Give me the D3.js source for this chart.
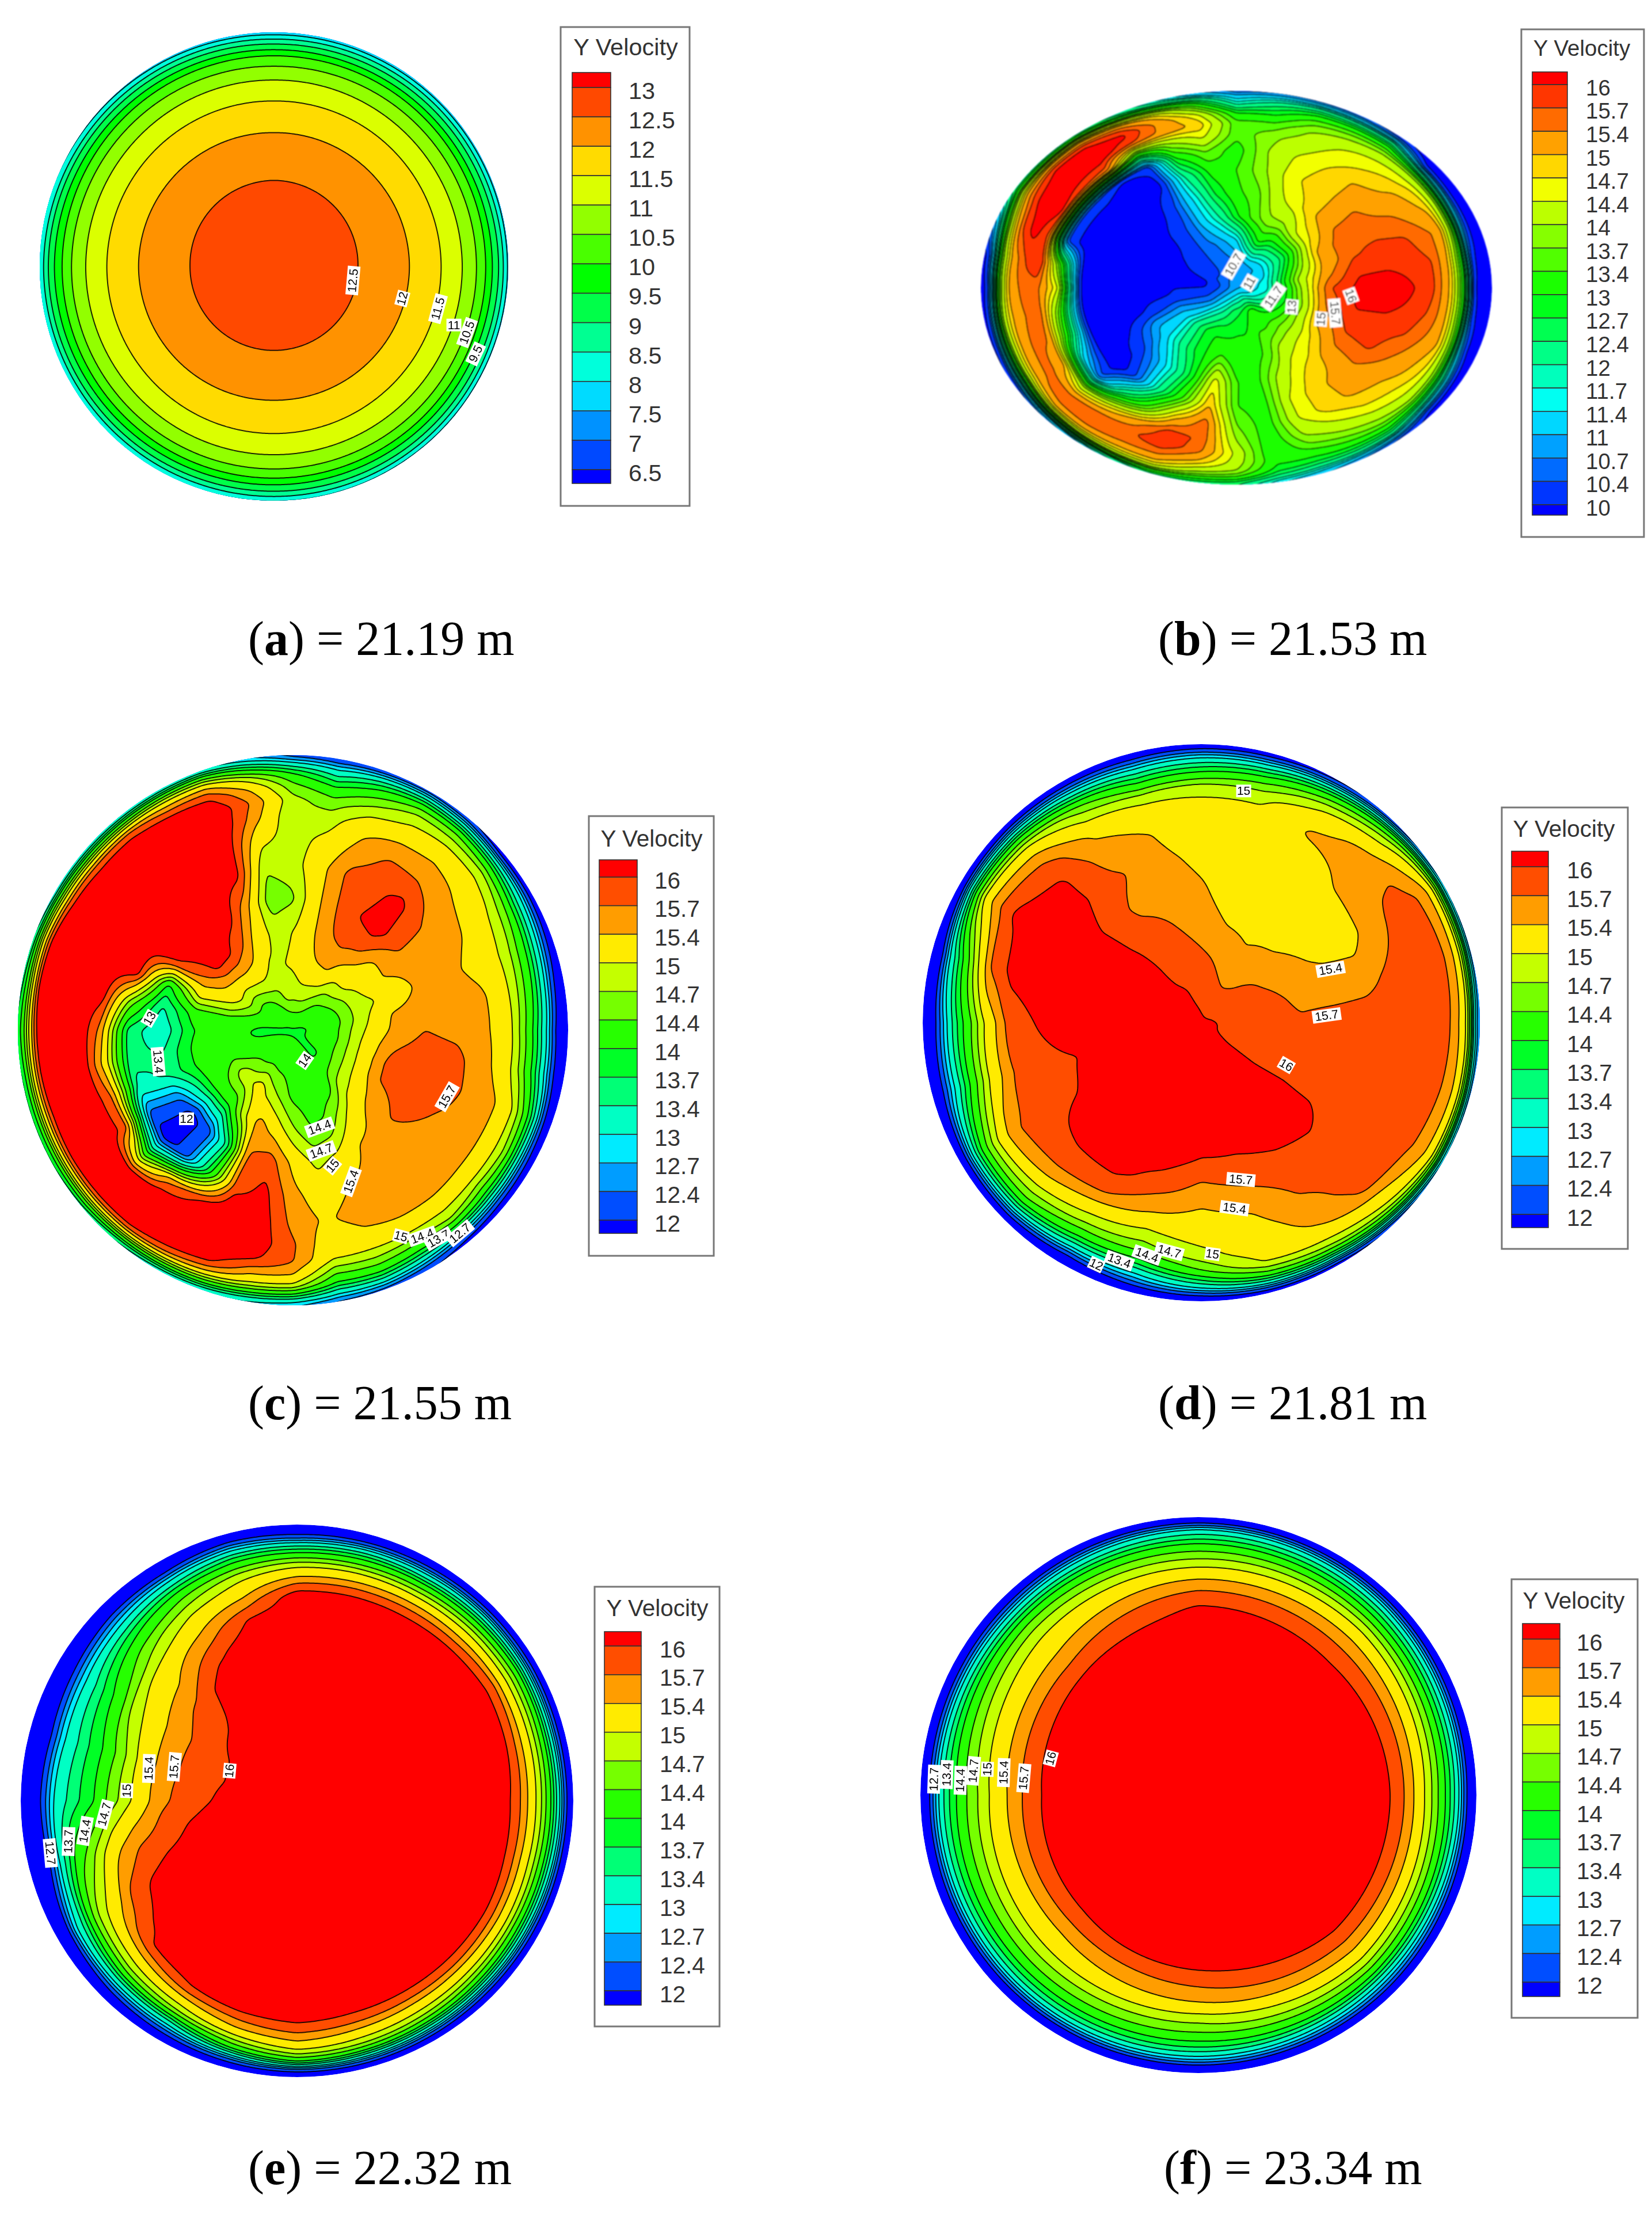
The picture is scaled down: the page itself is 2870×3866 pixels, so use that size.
<!DOCTYPE html>
<html lang="en">
<head>
<meta charset="UTF-8">
<title>Y Velocity contours</title>
<script src="https://d3js.org/d3.v7.min.js"></script>
<style>
  body { margin: 0; background: #fff; }
</style>
</head>
<body>
<svg id="chart" width="2870" height="3866"></svg>
<script>

// contour levels, low to high
var levelsA = [6.5, 7, 7.5, 8, 8.5, 9, 9.5, 10, 10.5, 11, 11.5, 12, 12.5, 13];
var levelsB = [10, 10.4, 10.7, 11, 11.4, 11.7, 12, 12.4, 12.7, 13, 13.4, 13.7, 14, 14.4, 14.7, 15, 15.4, 15.7, 16];
var levelsC = [12, 12.4, 12.7, 13, 13.4, 13.7, 14, 14.4, 14.7, 15, 15.4, 15.7, 16];

// velocity: one row per angle (counter clockwise from east), one column per radius
var radiiA = [0, .2, .36, .58, .715, .805, .866, .905, .932, .96, .98, .995, 1];
var velA = [
  [12.9, 12.75, 12.5, 12, 11.5, 11, 10.5, 10, 9.5, 9, 8.5, 8, 7.8],
  [12.9, 12.75, 12.52, 11.98, 11.47, 10.95, 10.4, 9.95, 9.35, 8.8, 8.25, 7.8, 7.7],
  [12.9, 12.75, 12.5, 12, 11.5, 11, 10.5, 10, 9.6, 9.1, 8.6, 8.2, 8],
  [12.9, 12.75, 12.5, 11.98, 11.5, 11, 10.5, 10, 9.5, 9, 8.6, 8.1, 7.9]
];

var radiiBC = [0, .12, .24, .36, .48, .6, .7, .78, .84, .89, .93, .96, .98, 1];
var velB = [
  [10.9, 11.6, 13.8, 15.65, 16.1, 16.3, 16, 15.7, 14.9, 13.2, 10.1, 9.7, 9.6, 9.6],
  [10.9, 11.6, 14, 15.3, 15.95, 15.95, 15.85, 15.7, 15, 13.3, 10.3, 9.8, 9.7, 9.6],
  [10.9, 11.5, 13.6, 15.1, 15.65, 15.8, 15.75, 15.5, 15.3, 13.8, 11, 9.9, 9.7, 9.6],
  [10.9, 11.3, 13.1, 15, 15.65, 15.55, 15.45, 15.2, 14.9, 14, 11.5, 10, 9.7, 9.6],
  [10.9, 11.2, 12.6, 14.6, 15.35, 15.42, 15.1, 14.95, 14.6, 14, 12, 10.2, 9.8, 9.7],
  [10.9, 11, 12.6, 14.4, 15, 15, 15, 14.7, 14.45, 14, 13.1, 12, 10.9, 10.1],
  [10.9, 11, 12.6, 13.9, 14.6, 14.85, 14.7, 14.5, 14.3, 13.8, 13.1, 12.1, 11.2, 10.4],
  [10.9, 10.95, 13, 13.9, 14.3, 14.55, 14.45, 14.2, 14, 13.6, 13, 12.2, 11.4, 10.5],
  [10.9, 10.8, 12.3, 13.5, 13.6, 13.9, 14, 13.9, 13.5, 13, 12.5, 11.9, 11.3, 10.6],
  [10.9, 10.6, 11.3, 12.9, 13.3, 13.4, 13.2, 13.5, 13.5, 13, 12, 11.4, 11, 10.5],
  [10.9, 10.55, 11, 12, 12.7, 13.1, 13.7, 14.5, 14.9, 14.5, 13.6, 12.7, 11.9, 11],
  [10.9, 10.5, 10.7, 11.3, 11.5, 12, 13, 14, 15.3, 15.3, 14.7, 13.4, 12.5, 11.7],
  [10.9, 10.6, 10.6, 10.5, 10.4, 9.9, 10.1, 13.3, 15.8, 16.1, 15.5, 14.2, 13, 12.2],
  [10.9, 10.3, 10.2, 10.2, 9.8, 9.6, 10, 15.5, 16.2, 16.2, 16, 15, 13.7, 12.5],
  [10.9, 10.2, 10.1, 9.8, 9.6, 9.6, 10.3, 15.8, 16.2, 16.2, 16, 14.9, 13.5, 12.4],
  [10.9, 10.3, 9.95, 9.7, 9.6, 9.6, 10.3, 16.05, 16.2, 16.05, 15.5, 14.5, 13.4, 12.4],
  [10.9, 10, 9.8, 9.7, 9.6, 9.6, 10.3, 15.7, 16.15, 15.7, 14.5, 13, 11.8, 10.8],
  [10.9, 9.95, 9.8, 9.6, 9.6, 9.6, 13.5, 16.1, 15.7, 15.1, 13.7, 11.5, 10.3, 9.8],
  [10.9, 10, 10, 9.8, 9.6, 9.65, 14.5, 15.5, 15.5, 15.1, 13.5, 11, 10, 9.7],
  [10.9, 10.2, 10.05, 9.9, 9.6, 9.6, 13.5, 15.6, 15.4, 15, 13.9, 11.5, 10.2, 9.8],
  [10.9, 10.4, 10.6, 10.1, 9.7, 9.6, 13, 15.4, 15.5, 15.1, 14, 12, 10.5, 9.8],
  [10.9, 10.6, 11, 10.9, 10, 9.6, 11.5, 15.1, 15.5, 15.3, 14.3, 12.5, 11, 10],
  [10.9, 10.9, 11.5, 11.2, 10.3, 9.6, 10.5, 14, 15.4, 15.6, 15, 13.5, 11.8, 10.5],
  [10.9, 11.4, 12.2, 11.9, 10.9, 10.5, 12.5, 14.6, 15.6, 15.65, 15.1, 14, 12.5, 11],
  [10.9, 11.7, 12.7, 12.6, 11.9, 12.2, 13.5, 15.2, 15.65, 15.5, 15, 14.2, 13, 11.8],
  [10.9, 12, 13, 13, 13, 13.5, 14.9, 15.85, 15.95, 15.5, 15, 14.3, 13.4, 12.5],
  [10.9, 12.4, 12.9, 13.5, 14.6, 15, 15.6, 15.65, 15.5, 15, 14.3, 13.7, 13, 12.5],
  [10.9, 12.6, 13, 13.1, 13.4, 13.4, 13.7, 14, 14.3, 14.2, 14, 13.4, 12.8, 12.4],
  [10.9, 12.7, 13, 13.2, 13.3, 13.2, 13.2, 13.1, 13, 13.1, 12.9, 12.5, 12, 11.4],
  [10.9, 13, 13.4, 13.5, 14.1, 14.4, 14.4, 14.1, 13.7, 13.2, 12.8, 12.2, 11.6, 11],
  [10.9, 13.1, 13.4, 14.2, 14.6, 14.85, 14.85, 14.4, 14, 13.5, 12.9, 12.2, 11.4, 10.6],
  [10.9, 12.7, 13.6, 14.4, 14.85, 15.1, 15.05, 14.7, 14.3, 13.8, 13, 12.1, 11, 10.2],
  [10.9, 12.3, 13.6, 14.6, 15.3, 15.4, 15.15, 14.85, 14.5, 14, 12.5, 11, 10, 9.8],
  [10.9, 12, 13.6, 15, 15.65, 15.75, 15.4, 15.1, 14.7, 13.9, 12, 10.5, 9.8, 9.7],
  [10.9, 11.9, 13.5, 15.3, 15.9, 15.85, 15.7, 15.35, 15, 13.6, 11, 9.9, 9.7, 9.6],
  [10.9, 11.7, 13.7, 15.5, 16.05, 16.05, 15.9, 15.6, 14.9, 13.3, 10.3, 9.8, 9.7, 9.6]
];

var velC = [
  [13.95, 14.1, 14.9, 15.45, 15.7, 15.6, 15.45, 15.2, 14.5, 13.7, 12.8, 11.8, 11.5, 11.3],
  [13.95, 14.05, 14.8, 15.4, 15.55, 15.55, 15.45, 15.15, 14.6, 13.9, 13, 12.1, 11.6, 11.3],
  [13.95, 14.1, 14.8, 15.1, 15.45, 15.5, 15.3, 15.1, 14.7, 14.1, 13.3, 12.5, 11.9, 11.4],
  [13.95, 14.2, 14.85, 15.38, 15.5, 15.55, 15.42, 15.2, 14.9, 14.4, 13.6, 12.9, 12.2, 11.5],
  [13.95, 14.3, 15.05, 15.3, 15.8, 15.72, 15.5, 15.35, 15.15, 14.8, 14.1, 13.2, 12.3, 11.5],
  [13.95, 14.4, 15.05, 15.65, 16.15, 16.1, 15.72, 15.45, 15.25, 14.85, 14.4, 13.6, 12.8, 12],
  [13.95, 14.6, 15.38, 15.75, 16, 15.9, 15.75, 15.42, 15.1, 14.85, 14.4, 13.7, 13, 12.1],
  [13.95, 14.75, 15.35, 15.65, 15.72, 15.78, 15.5, 15.3, 14.9, 14.5, 14, 13.4, 12.8, 12],
  [13.95, 14.8, 15.3, 15.3, 15.3, 15.3, 15.1, 14.85, 14.55, 14.1, 13.5, 13, 12.5, 12],
  [13.95, 14.75, 15.05, 15, 14.65, 14.85, 14.85, 14.7, 14.8, 14.5, 14.1, 13.4, 12.8, 12.2],
  [13.95, 14.8, 14.98, 14.9, 14.5, 14.75, 15.1, 15.5, 15.65, 15.35, 14.8, 14, 13.4, 12.7],
  [13.95, 14.6, 14.95, 15.15, 15.45, 16.1, 16.2, 16.3, 16.3, 16, 15.5, 14.7, 14, 13],
  [13.95, 14.45, 15.2, 15.7, 16.15, 16.3, 16.3, 16.3, 16.3, 16.1, 15.5, 14.8, 14, 13],
  [13.95, 14.3, 15.2, 16.05, 16.3, 16.3, 16.3, 16.3, 16.3, 16.2, 15.8, 14.8, 14, 13],
  [13.95, 14.2, 15.1, 16.1, 16.3, 16.3, 16.3, 16.3, 16.3, 16.2, 15.8, 14.8, 14, 13],
  [13.95, 14.3, 15.2, 15.6, 15.95, 16.15, 16.3, 16.3, 16.3, 16.3, 15.9, 14.9, 14.1, 13],
  [13.95, 14.2, 14.85, 15.1, 13.9, 16.1, 16.3, 16.3, 16.3, 16.3, 16.2, 15.2, 14.3, 13.3],
  [13.95, 14.05, 14.25, 14.2, 13.35, 14.6, 16.1, 16.3, 16.3, 16.3, 16.3, 15, 14.2, 13.5],
  [13.95, 13.95, 14.1, 14, 13.1, 13.6, 15.6, 16.3, 16.3, 16.3, 16.15, 15, 14.3, 13.7],
  [13.95, 13.95, 14.15, 14.1, 13.4, 13.5, 15.3, 16.3, 16.3, 16.3, 16.1, 15, 14.2, 13.6],
  [13.95, 14.15, 14.25, 14.1, 13.45, 13.3, 15.7, 16.3, 16.3, 16.3, 16, 15, 14.2, 13.6],
  [13.95, 14.1, 14.5, 14, 12.5, 12.3, 15.8, 16.3, 16.3, 16.3, 16.05, 15, 14.2, 13.6],
  [13.95, 14.2, 14.85, 13.95, 11.8, 11.7, 14.2, 16.1, 16.3, 16.3, 16, 15, 14.2, 13.5],
  [13.95, 14.2, 14.95, 14, 12.2, 12.3, 15.5, 16.3, 16.3, 16.3, 15.95, 14.9, 14, 13.3],
  [13.95, 14.25, 15.2, 14.9, 13.5, 14, 15.95, 16.3, 16.3, 16.2, 15.7, 14.7, 13.9, 13.1],
  [13.95, 14.2, 14.85, 15.55, 15.7, 15.85, 16.3, 16.3, 16.3, 16.05, 15.4, 14.5, 13.8, 13],
  [13.95, 14.25, 14.6, 15.2, 15.85, 16.1, 16.2, 16.2, 16.05, 15.5, 15, 14.2, 13.5, 12.9],
  [13.95, 14.2, 14.3, 14.75, 15.3, 15.5, 15.6, 15.75, 15.72, 15.4, 14.9, 14, 13.3, 12.7],
  [13.95, 14.2, 14.25, 14.4, 14.9, 15.2, 15.35, 15.15, 15.05, 14.5, 14, 13.3, 12.8, 12.3],
  [13.95, 14.15, 14.2, 14.45, 15.05, 15.4, 15.55, 15.35, 15.05, 14.6, 14.1, 13.4, 12.8, 12.2],
  [13.95, 14.05, 14.2, 14.9, 15.4, 15.55, 15.58, 15.42, 15.1, 14.5, 13.9, 13.1, 12.5, 12],
  [13.95, 13.95, 14.7, 15.3, 15.55, 15.55, 15.5, 15.45, 15.1, 14.75, 13.9, 12.8, 12.2, 11.7],
  [13.95, 14, 14.85, 15.45, 15.75, 15.6, 15.55, 15.42, 15.1, 14.5, 13.7, 12.6, 12, 11.5],
  [13.95, 14.1, 14.9, 15.7, 15.9, 15.7, 15.55, 15.42, 15.1, 14.6, 13.6, 12.5, 11.9, 11.4],
  [13.95, 14.1, 14.95, 15.75, 15.95, 15.85, 15.55, 15.42, 15.1, 14.4, 13.5, 12.4, 11.7, 11.3],
  [13.95, 14.05, 14.95, 15.65, 15.85, 15.8, 15.5, 15.25, 14.6, 13.8, 12.9, 12, 11.5, 11.3]
];

var velD = [
  [16.05, 15.95, 15.85, 15.75, 15.85, 15.85, 15.85, 15.85, 15.85, 15.75, 15.35, 14.8, 13, 12.3],
  [16.05, 15.9, 15.85, 15.62, 15.55, 15.6, 15.75, 15.85, 15.85, 15.8, 15.5, 15, 13.9, 12.3],
  [16.05, 15.85, 15.72, 15.5, 15.35, 15.25, 15.55, 15.75, 15.85, 15.72, 15.5, 15, 14, 12.5],
  [16.05, 15.75, 15.65, 15.4, 15.25, 15.25, 15.45, 15.55, 15.5, 15.2, 14.8, 14.2, 13.2, 12],
  [16.05, 15.75, 15.5, 15.35, 15.2, 15.2, 15.2, 15.45, 15.25, 14.9, 14.3, 13.5, 12.6, 11.8],
  [16.05, 15.8, 15.65, 15.4, 15.2, 15.15, 15.15, 15.1, 14.9, 14.4, 13.7, 12.9, 12.2, 11.5],
  [16.05, 15.9, 15.75, 15.55, 15.45, 15.3, 15.1, 15.05, 14.95, 14.2, 13.5, 12.8, 12.1, 11.5],
  [16.05, 15.95, 15.85, 15.7, 15.6, 15.5, 15.4, 15.2, 14.8, 14, 13.3, 12.5, 11.9, 11.3],
  [16.05, 16.05, 15.85, 15.8, 15.65, 15.75, 15.55, 15.35, 14.95, 14.5, 13.6, 12.7, 12, 11.3],
  [16.05, 16.05, 16.15, 16.02, 15.95, 16.05, 16.05, 15.85, 15.5, 15, 14.1, 13, 12.1, 11.3],
  [16.05, 16.1, 16.2, 16.25, 16.25, 16.2, 16.1, 16.02, 15.65, 15.2, 14.2, 13, 12, 11],
  [16.05, 16.2, 16.25, 16.25, 16.25, 16.2, 16.1, 15.75, 14.8, 13.9, 13.1, 12, 11.3, 11],
  [16.05, 16.2, 16.25, 16.2, 16.25, 16, 15.75, 15, 14.2, 13.5, 12.6, 11.8, 11.2, 11],
  [16.05, 16.2, 16.25, 16.1, 15.98, 15.85, 15.7, 15.1, 14.3, 13.5, 12.7, 12, 11.3, 11],
  [16.05, 16.2, 16.25, 16.2, 16.02, 15.95, 15.85, 15.6, 15.05, 14.4, 13.6, 12.6, 11.8, 11.1],
  [16.05, 16.25, 16.25, 16.25, 16.2, 16.05, 15.85, 15.4, 14.9, 14.4, 13.6, 12.6, 11.9, 11.2],
  [16.05, 16.25, 16.25, 16.25, 16.2, 16.1, 15.72, 15.1, 14.6, 13.9, 13, 12.1, 11.5, 11],
  [16.05, 16.25, 16.25, 16.25, 16.2, 15.85, 15.42, 14.9, 14.5, 13.8, 13, 12.4, 11.8, 11.2],
  [16.05, 16.25, 16.2, 16.15, 16.02, 15.6, 15.3, 15.1, 14.85, 14.4, 13.6, 12.8, 12, 11.3],
  [16.05, 16.2, 16.2, 16.15, 16.02, 15.72, 15.42, 15.25, 15.2, 15, 14.3, 13.3, 12.4, 11.5],
  [16.05, 16.15, 16.2, 16.15, 16.1, 15.85, 15.72, 15.55, 15.4, 15.1, 14.6, 13.6, 12.5, 11.6],
  [16.05, 16.05, 16.05, 16.1, 16.15, 15.9, 15.85, 15.85, 15.75, 15.3, 15, 14.3, 13.2, 12],
  [16.05, 15.95, 15.95, 15.95, 15.9, 15.85, 15.85, 15.85, 15.85, 15.65, 15.4, 15, 14, 12.5],
  [16.05, 15.95, 15.9, 15.85, 15.85, 15.85, 15.85, 15.85, 15.85, 15.72, 15.45, 15, 13.8, 12.3]
];

var radiiE = [0, .25, .4, .5, .6, .68, .74, .78, .82, .85, .88, .91, .93, .95, .97, 1];
var velE = [
  [16.2, 16.2, 16.2, 16.2, 16.2, 16.2, 16.2, 15.95, 15.6, 15.2, 14.8, 14.25, 13.7, 13.1, 12.2, 11.3],
  [16.2, 16.2, 16.2, 16.2, 16.2, 16.2, 16.2, 16.05, 15.65, 15.25, 14.85, 14.3, 13.75, 13.1, 12.2, 11.3],
  [16.2, 16.2, 16.2, 16.2, 16.2, 16.2, 16.2, 16.1, 15.8, 15.3, 14.9, 14.4, 13.9, 13.2, 12.3, 11.3],
  [16.2, 16.2, 16.2, 16.2, 16.2, 16.2, 16.2, 16.03, 15.6, 15.2, 14.8, 14.2, 13.7, 13.1, 12.2, 11.3],
  [16.2, 16.2, 16.2, 16.2, 16.2, 16.2, 16.2, 15.95, 15.5, 15.1, 14.6, 14, 13.4, 12.9, 12, 11.3],
  [16.2, 16.2, 16.2, 16.2, 16.2, 16.2, 16.2, 15.9, 15.4, 15.05, 14.5, 13.9, 13.4, 12.7, 11.9, 11.2],
  [16.2, 16.2, 16.2, 16.2, 16.2, 16.2, 16.2, 15.8, 15.3, 14.95, 14.4, 13.75, 13.2, 12.4, 11.8, 11.2],
  [16.2, 16.2, 16.2, 16.2, 16.2, 16.02, 15.55, 15.25, 15, 14.7, 14.2, 13.7, 13.15, 12.6, 11.9, 11.2],
  [16.2, 16.2, 16.2, 16.2, 15.9, 15.5, 15.2, 14.95, 14.6, 14.3, 13.85, 13.2, 12.8, 12.1, 11.6, 11],
  [16.2, 16.2, 15.9, 15.75, 15.4, 15.15, 14.75, 14.5, 14.1, 13.8, 13.35, 12.85, 12.5, 12, 11.5, 11],
  [16.2, 16.05, 15.8, 15.55, 15.2, 14.8, 14.2, 13.9, 13.6, 13.3, 13, 12.5, 12.1, 11.6, 11.3, 11],
  [16.2, 16.03, 15.8, 15.55, 15, 14.4, 13.9, 13.7, 13.4, 13.2, 12.85, 12.2, 11.8, 11.3, 11, 11],
  [16.2, 16.1, 15.85, 15.6, 15, 14.5, 13.95, 13.75, 13.5, 13.3, 13.05, 12.4, 12, 11.4, 11, 11],
  [16.2, 16.2, 16.05, 15.85, 15.65, 15.3, 14.85, 14.5, 14.2, 13.7, 13.2, 12.4, 11.8, 11.2, 11, 11],
  [16.2, 16.2, 16.2, 16.2, 16.05, 15.8, 15.35, 15.1, 14.8, 14.4, 13.7, 13.15, 12.8, 12, 11.4, 11],
  [16.2, 16.2, 16.2, 16.2, 16.2, 16.1, 16, 15.55, 15.1, 14.8, 14.3, 13.5, 13, 12.4, 11.8, 11.1],
  [16.2, 16.2, 16.2, 16.2, 16.2, 16.2, 16.15, 15.95, 15.4, 15, 14.6, 13.7, 13.15, 12.6, 12, 11.2],
  [16.2, 16.2, 16.2, 16.2, 16.2, 16.2, 16.2, 16.1, 15.7, 15.4, 14.95, 14.4, 13.9, 13, 12.2, 11.3],
  [16.2, 16.2, 16.2, 16.2, 16.2, 16.2, 16.2, 16.15, 15.9, 15.6, 15.3, 14.85, 14.4, 13.8, 12.4, 11.3],
  [16.2, 16.2, 16.2, 16.2, 16.2, 16.2, 16.2, 16.1, 15.8, 15.45, 15.1, 14.7, 14.2, 13.4, 12.4, 11.3],
  [16.2, 16.2, 16.2, 16.2, 16.2, 16.2, 16.2, 16.1, 15.75, 15.35, 15, 14.55, 14, 13.2, 12.3, 11.3],
  [16.2, 16.2, 16.2, 16.2, 16.2, 16.2, 16.2, 16.1, 15.75, 15.3, 14.95, 14.4, 13.9, 13.1, 12.2, 11.3],
  [16.2, 16.2, 16.2, 16.2, 16.2, 16.2, 16.2, 16.1, 15.7, 15.3, 14.9, 14.3, 13.8, 13.1, 12.2, 11.3],
  [16.2, 16.2, 16.2, 16.2, 16.2, 16.2, 16.2, 16, 15.6, 15.2, 14.8, 14.25, 13.7, 13.1, 12.2, 11.3]
];

var radiiF = [0, .5, .56, .6, .64, .68, .72, .76, .8, .84, .87, .9, .92, .94, .96, .98, 1];
var velF = [
  [16.3, 16.3, 16.25, 16.2, 16.15, 16.05, 15.85, 15.55, 15.15, 14.7, 14.3, 13.8, 13.45, 12.95, 12.2, 11.5, 11],
  [16.3, 16.3, 16.25, 16.2, 16.1, 15.97, 15.8, 15.55, 15.3, 14.9, 14.55, 14, 13.7, 13.3, 12.7, 11.9, 11],
  [16.3, 16.3, 16.25, 16.2, 16.1, 16.02, 15.8, 15.55, 15.2, 14.8, 14.5, 14.1, 13.7, 13.4, 12.9, 11.9, 11.2],
  [16.3, 16.2, 16.1, 16, 15.8, 15.6, 15.4, 15.2, 15, 14.7, 14.4, 13.9, 13.5, 13, 12.4, 11.7, 11],
  [16.3, 16.15, 16.02, 15.85, 15.67, 15.45, 15.2, 14.95, 14.65, 14.35, 14, 13.65, 13.35, 12.85, 12.25, 11.5, 11],
  [16.3, 16.2, 16.1, 15.95, 15.75, 15.5, 15.3, 15.1, 14.8, 14.5, 14.2, 13.75, 13.5, 13, 12.4, 11.6, 11],
  [16.3, 16.3, 16.2, 16.15, 15.95, 15.75, 15.55, 15.3, 14.85, 14.55, 14.2, 13.8, 13.5, 13, 12.5, 11.6, 11],
  [16.3, 16.3, 16.25, 16.22, 16.2, 16.05, 15.85, 15.6, 15.3, 14.9, 14.55, 14, 13.55, 12.9, 12.5, 11.7, 11]
];

var captions = ["a", "b", "c", "d", "e", "f"];
var captionValues = ["21.19", "21.53", "21.55", "21.81", "22.32", "23.34"];

// contour labels: text, x and y on the unit section, rotation
var labelsA = [["12.5", .337, -.06, -85], ["12", .548, -.137, -75], ["11.5", .70, -.18, -75], ["11", .768, -.25, 0], ["10.5", .824, -.282, -70], ["9.5", .861, -.373, -65]];
var labelsB = [["10.7", -.011, .117, -60], ["11", .051, .025, -60], ["11.7", .145, -.046, -55], ["13", .217, -.097, -85], ["15", .331, -.159, -85], ["15.7", .386, -.128, 85], ["16", .448, -.041, 70]];
var labelsC = [["13", -.521, .043, -60], ["13.4", -.49, -.114, 85], ["12", -.387, -.322, 0], ["14", .043, -.11, -55], ["14.4", .097, -.353, -20], ["14.7", .103, -.439, -20], ["15", .144, -.493, -50], ["15.4", .211, -.55, -70], ["15.7", .56, -.242, -60], ["15", .392, -.749, 15], ["14.4", .47, -.749, -20], ["13.7", .529, -.758, -30], ["12.7", .607, -.738, -40]];
var labelsD = [["15", .152, .832, 0], ["15.4", .464, .192, -10], ["15.7", .45, .026, -8], ["16", .305, -.152, 30], ["15.7", .142, -.563, 5], ["15.4", .119, -.666, 8], ["15", .04, -.83, 8], ["14.7", -.115, -.821, 15], ["14.4", -.195, -.834, 20], ["13.4", -.294, -.854, 20], ["12", -.377, -.868, 25]];
var labelsE = [["16", -.244, .109, -85], ["15.7", -.444, .123, -85], ["15.4", -.536, .117, -88], ["15", -.616, .037, -88], ["14.7", -.697, -.049, -75], ["14.4", -.767, -.109, -80], ["13.7", -.827, -.147, -88], ["12.7", -.893, -.189, 85]];
var labelsF = [["16", -.531, .132, -75], ["15.7", -.628, .061, -85], ["15.4", -.70, .081, -88], ["15", -.759, .093, -88], ["14.7", -.809, .087, -85], ["14.4", -.856, .053, -88], ["13.4", -.905, .074, -88], ["12.7", -.951, .057, -88]];

// where each panel goes on the page
var panels = [
  { vel: velA, radii: radiiA, levels: levelsA, labels: labelsA, cx: 476, cy: 463, rx: 407, ry: 407, blur: .7,
    box: [974, 47, 1198, 879], bar: [994, 1061, 126, 840], tick: [1092, 157, 821], title: [1087, 96], font: 41.5, capX: 431, capY: 1138 },
  { vel: velB, radii: radiiBC, levels: levelsB, labels: labelsB, cx: 2148, cy: 500, rx: 444, ry: 342, blur: 1.3,
    box: [2643, 51, 2856, 933], bar: [2662, 2723, 125, 895], tick: [2755, 152, 882], title: [2748, 97], font: 38.5, capX: 2012, capY: 1138 },
  { vel: velC, radii: radiiBC, levels: levelsC, labels: labelsC, cx: 509, cy: 1790, rx: 478, ry: 478, blur: .7,
    box: [1023, 1418, 1240, 2182], bar: [1041, 1107, 1494, 2143], tick: [1137, 1529, 2125], title: [1132, 1471], font: 40.5, capX: 431, capY: 2466 },
  { vel: velD, radii: radiiBC, levels: levelsC, labels: labelsD, cx: 2087, cy: 1777, rx: 484, ry: 484, blur: .7,
    box: [2609, 1403, 2828, 2170], bar: [2626, 2690, 1479, 2133], tick: [2722, 1511, 2115], title: [2717, 1454], font: 40.5, capX: 2012, capY: 2466 },
  { vel: velE, radii: radiiE, levels: levelsC, labels: labelsE, cx: 516, cy: 3129, rx: 480, ry: 480, blur: .7,
    box: [1033, 2757, 1250, 3521], bar: [1050, 1114, 2835, 3484], tick: [1146, 2865, 3464], title: [1142, 2808], font: 40.5, capX: 431, capY: 3795 },
  { vel: velF, radii: radiiF, levels: levelsC, labels: labelsF, cx: 2082, cy: 3119, rx: 483, ry: 483, blur: .7,
    box: [2626, 2744, 2845, 3506], bar: [2645, 2710, 2821, 3469], tick: [2739, 2853, 3449], title: [2734, 2795], font: 40.5, capX: 2022, capY: 3795 }
];

var svg = d3.select("#chart");
var defs = svg.append("defs");

// size of the sampling grid the contours are traced on
var n = 330;
var pad = 1.04;

// rainbow bands, blue at the low end
function bandColors(levels) {
  var hue = d3.scaleLinear().domain([0, levels.length]).range([240, 0]);
  return d3.range(levels.length + 1).map(function(i) {
    return d3.hsl(hue(i), 1, .5).formatHex();
  });
}

// velocity at unit position (u, v), bilinear between the read values
function sample(p, u, v) {
  var r = Math.min(1, Math.sqrt(u * u + v * v));
  var a = Math.atan2(v, u);
  if (a < 0) a += 2 * Math.PI;
  var na = p.vel.length;
  var t = a / (2 * Math.PI) * na;
  var j0 = Math.floor(t) % na, j1 = (j0 + 1) % na, fa = t - Math.floor(t);
  var k1 = Math.min(p.radii.length - 1, Math.max(1, d3.bisectRight(p.radii, r)));
  var k0 = k1 - 1;
  var fr = (r - p.radii[k0]) / (p.radii[k1] - p.radii[k0]);
  var a0 = p.vel[j0][k0] * (1 - fa) + p.vel[j1][k0] * fa;
  var a1 = p.vel[j0][k1] * (1 - fa) + p.vel[j1][k1] * fa;
  return a0 * (1 - fr) + a1 * fr;
}

panels.forEach(function(p, idx) {

  var colors = bandColors(p.levels);
  var x = d3.scaleLinear().domain([0, n]).range([p.cx - pad * p.rx, p.cx + pad * p.rx]);
  var y = d3.scaleLinear().domain([0, n]).range([p.cy - pad * p.ry, p.cy + pad * p.ry]);
  var ux = d3.scaleLinear().domain([-1, 1]).range([p.cx - p.rx, p.cx + p.rx]);
  var uy = d3.scaleLinear().domain([-1, 1]).range([p.cy + p.ry, p.cy - p.ry]);

  var values = new Float64Array(n * n);
  for (var j = 0; j < n; j++) {
    for (var i = 0; i < n; i++) {
      values[j * n + i] = sample(p, ux.invert(x(i + .5)), uy.invert(y(j + .5)));
    }
  }
  if (d3.blur2) d3.blur2({data: values, width: n, height: n}, .8);

  var contours = d3.contours().size([n, n]).thresholds(p.levels)(values);
  var path = d3.geoPath(d3.geoTransform({
    point: function(a, b) { this.stream.point(x(a), y(b)); }
  }));

  defs.append("clipPath").attr("id", "clip" + idx)
    .append("ellipse")
    .attr("cx", p.cx).attr("cy", p.cy).attr("rx", p.rx).attr("ry", p.ry);
  defs.append("filter").attr("id", "soft" + idx)
    .attr("x", "-5%").attr("y", "-5%").attr("width", "110%").attr("height", "110%")
    .append("feGaussianBlur").attr("stdDeviation", p.blur);

  var g = svg.append("g").attr("filter", "url(#soft" + idx + ")");
  var inner = g.append("g").attr("clip-path", "url(#clip" + idx + ")");

  inner.append("ellipse")
    .attr("cx", p.cx).attr("cy", p.cy).attr("rx", p.rx).attr("ry", p.ry)
    .attr("fill", colors[0]);

  inner.selectAll("path.band")
    .data(contours)
    .enter()
    .append("path")
    .attr("class", "band")
    .attr("d", path)
    .attr("fill", function(d, i) { return colors[i + 1]; })
    .attr("stroke", "#000")
    .attr("stroke-opacity", .85)
    .attr("stroke-width", 2);

  // small white contour labels
  var tag = g.selectAll("g.tag")
    .data(p.labels)
    .enter()
    .append("g")
    .attr("class", "tag")
    .attr("transform", function(d) {
      return "translate(" + ux(d[1]) + "," + uy(d[2]) + ") rotate(" + d[3] + ")";
    });

  tag.append("rect")
    .attr("x", function(d) { return -d[0].length * 6 - 1; })
    .attr("y", -11)
    .attr("width", function(d) { return d[0].length * 12 + 2; })
    .attr("height", 22)
    .attr("fill", "#fff");

  tag.append("text")
    .attr("text-anchor", "middle")
    .attr("y", 7)
    .style("font-family", "Liberation Sans")
    .style("font-size", "21px")
    .attr("fill", "#000")
    .text(function(d) { return d[0]; });

  // legend
  var legend = svg.append("g");
  var top = p.levels.slice().reverse();

  legend.append("rect")
    .attr("x", p.box[0]).attr("y", p.box[1])
    .attr("width", p.box[2] - p.box[0]).attr("height", p.box[3] - p.box[1])
    .attr("fill", "#fff")
    .attr("stroke", "#777")
    .attr("stroke-width", 3);

  legend.append("text")
    .attr("x", p.title[0]).attr("y", p.title[1])
    .attr("text-anchor", "middle")
    .style("font-family", "Liberation Sans")
    .style("font-size", p.font + "px")
    .attr("fill", "#333")
    .text("Y Velocity");

  var tickY = d3.scaleLinear().domain([0, top.length - 1]).range([p.tick[1], p.tick[2]]);
  var edges = [p.bar[2]].concat(top.map(function(d, i) { return tickY(i) - 5; })).concat([p.bar[3]]);
  var reversed = colors.slice().reverse();

  legend.selectAll("rect.bandkey")
    .data(reversed)
    .enter()
    .append("rect")
    .attr("class", "bandkey")
    .attr("x", p.bar[0])
    .attr("y", function(d, i) { return edges[i]; })
    .attr("width", p.bar[1] - p.bar[0])
    .attr("height", function(d, i) { return edges[i + 1] - edges[i]; })
    .attr("fill", function(d) { return d; })
    .attr("stroke", "#333")
    .attr("stroke-width", 1.6);

  legend.selectAll("text.tick")
    .data(top)
    .enter()
    .append("text")
    .attr("class", "tick")
    .attr("x", p.tick[0])
    .attr("y", function(d, i) { return tickY(i) + p.font * .36; })
    .style("font-family", "Liberation Sans")
    .style("font-size", p.font + "px")
    .attr("fill", "#333")
    .text(function(d) { return d; });

  // caption under the panel
  var cap = svg.append("text")
    .attr("x", p.capX).attr("y", p.capY)
    .style("font-family", "Liberation Serif")
    .style("font-size", "84px")
    .attr("fill", "#000");
  cap.append("tspan").text("(");
  cap.append("tspan").style("font-weight", "bold").text(captions[idx]);
  cap.append("tspan").text(") = " + captionValues[idx] + " m");
});

</script>
</body>
</html>
